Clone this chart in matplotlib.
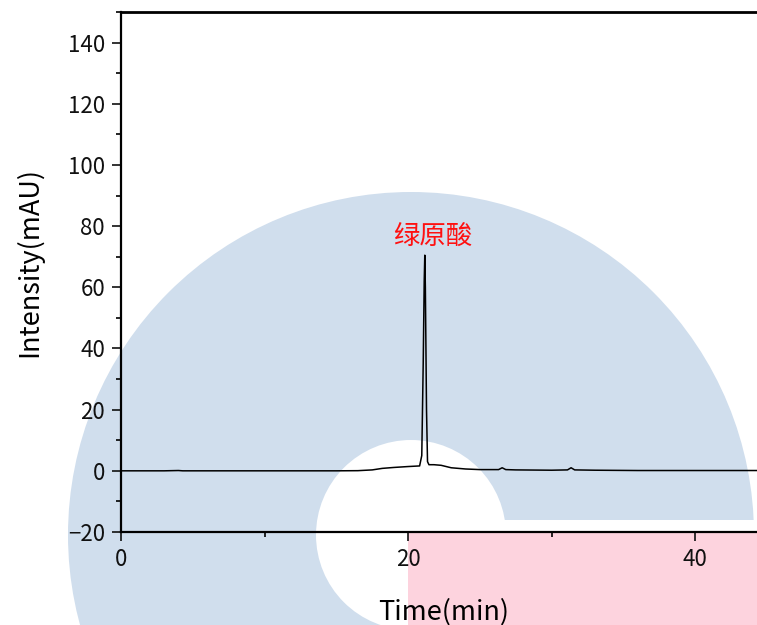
import matplotlib
matplotlib.use("Agg")
import matplotlib.pyplot as plt
from matplotlib.patches import Circle, Rectangle
from matplotlib.ticker import MultipleLocator

plt.rcParams['font.family'] = ['Noto Sans CJK SC', 'DejaVu Sans']

# ---- data ----
time_min = [0, 3, 4, 4.3, 5, 10, 15, 16.5, 17.5, 18.2, 19, 20, 20.8, 20.95,
            21.05, 21.12, 21.16, 21.2, 21.28, 21.35, 21.45, 21.8, 22.3, 23,
            24, 25, 26.3, 26.55, 26.8, 27.5, 30, 31.1, 31.35, 31.6, 33, 36,
            40, 42, 44.3]
intensity = [0, 0, 0.1, 0, 0, 0, 0, 0.05, 0.3, 0.8, 1.1, 1.4, 1.6, 5,
             35, 62, 70.5, 60, 20, 3, 2.0, 2.0, 1.8, 1.0,
             0.6, 0.4, 0.4, 1.0, 0.4, 0.3, 0.2, 0.3, 1.0, 0.3, 0.2, 0.1,
             0.1, 0.1, 0.1]
peak_label = "绿原酸"
peak_label_pos = (21.7, 76.5)
x_ticks = [0, 20, 40]
y_ticks = [-20, 0, 20, 40, 60, 80, 100, 120, 140]

W, H = 757, 625
fig = plt.figure(figsize=(W / 100, H / 100), dpi=100, facecolor='white')

# ---- watermark background (pixel coordinates) ----
bg = fig.add_axes([0, 0, 1, 1], zorder=0)
bg.set_xlim(0, W)
bg.set_ylim(H, 0)
bg.axis('off')
blue = '#D0DEED'
pink = '#FDD3DE'
cx, cy = 411, 535
bg.add_patch(Circle((cx, cy), 343, color=blue, lw=0))
bg.add_patch(Circle((cx, cy), 95, color='white', lw=0))
bg.add_patch(Rectangle((408, 520), W, H, color='white', lw=0))
bg.add_patch(Rectangle((408, 533), W, H, color=pink, lw=0))

# ---- main axes ----
ax = fig.add_axes([121 / W, (H - 532) / H, 1 - 121 / W, (532 - 12) / H], zorder=1)
ax.set_facecolor('none')
ax.plot(time_min, intensity, color='black', lw=1.1)
ax.set_xlim(0, 44.3)
ax.set_ylim(-20, 150)
ax.set_xticks(x_ticks)
ax.set_yticks(y_ticks)
ax.xaxis.set_minor_locator(MultipleLocator(10))
ax.yaxis.set_minor_locator(MultipleLocator(10))
ax.tick_params(which='major', direction='out', length=6.5, width=1.2,
               labelsize=16, pad=5, colors='#111111')
ax.tick_params(which='minor', direction='out', length=3.3, width=1.2)
ax.spines['right'].set_visible(False)
for s in ['left', 'bottom']:
    ax.spines[s].set_linewidth(1.6)
ax.spines['top'].set_linewidth(2.0)
ax.set_xlabel('Time(min)', fontsize=19.5, labelpad=20)
ax.set_ylabel('Intensity(mAU)', fontsize=19.5, labelpad=18)
ax.xaxis.label.set_x(0.5 + 5 / 636)
ax.yaxis.label.set_y(0.52)
ax.text(peak_label_pos[0], peak_label_pos[1], peak_label, color='#FF1010',
        fontsize=19, ha='center', va='center')

fig.savefig('out.png', dpi=100, facecolor='white')
